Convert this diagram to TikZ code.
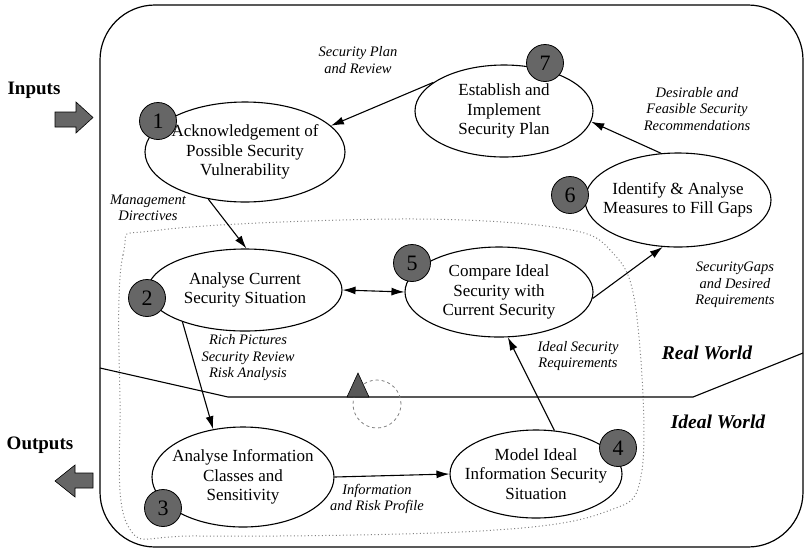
\documentclass[tikz,border=0pt]{standalone}
\usepackage{fontspec}
\setmainfont{Liberation Serif}
\usepackage{tikz}
\usetikzlibrary{arrows.meta,shapes.geometric}

\begin{document}
\begin{tikzpicture}[x=1pt,y=-1pt,>={Latex[length=13pt,width=8pt]},
  proc/.style={ellipse,draw,line width=1.1pt,fill=white,inner xsep=-30pt,inner ysep=-8pt,
    align=center,font=\fontsize{17}{19.5}\selectfont},
  badge/.style={circle,draw,line width=0.8pt,fill=black!60,minimum size=37pt,inner sep=0pt,
    font=\fontsize{22}{22}\selectfont},
  flow/.style={->,line width=1.1pt},
  note/.style={align=center,font=\itshape\fontsize{14.5}{16.5}\selectfont},
  world/.style={font=\bfseries\itshape\fontsize{19.5}{20}\selectfont},
  side/.style={font=\bfseries\fontsize{19}{20}\selectfont}]
  \useasboundingbox (0,0) rectangle (804,550);
  % frame and regions
  \draw[line width=1.2pt,rounded corners=55pt] (100,5) rectangle (803,547);
  \draw[gray,line width=1pt,dash pattern=on 1pt off 2.5pt] plot[smooth cycle,tension=0.6] coordinates
    {(120,400) (123,255) (160,230) (400,219) (560,228) (612,252) (636,310) (642,470)
     (605,512) (480,531) (200,536) (128,526)};
  \draw[line width=1.1pt] (100,368) -- (228,397) -- (693,397) -- (803,353);
  \draw[gray,line width=0.8pt,dashed] (377,404) circle (24pt);
  \draw[fill=black!65,line width=0.6pt] (347,397) -- (358,373) -- (369,397) -- cycle;
  % in / out
  \draw[fill=black!60,line width=0.6pt] (55,112) -- (76,112) -- (76,102) -- (93,117.5)
    -- (76,133) -- (76,127) -- (55,127) -- cycle;
  \draw[fill=black!60,line width=0.6pt] (93,473) -- (75,473) -- (75,465) -- (55,481)
    -- (75,497) -- (75,488) -- (93,488) -- cycle;
  \node[side] (inp) at (34,90) {Inputs};
  \node[side] (outp) at (40,445) {Outputs};
  % stages
  \node[proc,minimum width=200pt,minimum height=100pt] (ack) at (245,152) {Acknowledgement of\\Possible Security\\Vulnerability};
  \node[proc,minimum width=194pt,minimum height=82pt] (cur) at (245,290) {Analyse Current\\Security Situation};
  \node[proc,minimum width=182pt,minimum height=100pt] (cls) at (243,477) {Analyse Information\\Classes and\\Sensitivity};
  \node[proc,minimum width=172pt,minimum height=88pt] (mod) at (536,474) {Model Ideal\\Information Security\\Situation};
  \node[proc,minimum width=188pt,minimum height=90pt] (cmp) at (499,292) {Compare Ideal\\Security with\\Current Security};
  \node[proc,minimum width=186pt,minimum height=94pt] (gap) at (678,200) {Identify \& Analyse\\Measures to Fill Gaps};
  \node[proc,minimum width=178pt,minimum height=92pt] (plan) at (504,111) {Establish and\\Implement\\Security Plan};
  \foreach \b/\n/\x/\y in {b1/1/158/121,b2/2/147/298,b3/3/163/508,b4/4/618/448,
                           b5/5/412/263,b6/6/570/195,b7/7/545/63}{
    \node[badge] (\b) at (\x,\y) {\n};
  }
  % flows
  \draw[flow] (plan.158) -- (ack.17);
  \draw[flow] (gap.110) -- (plan.353);
  \draw[flow] (ack.232) -- (cur.88);
  \draw[<->,line width=1.1pt] (cur.east) -- (cmp.west);
  \draw[flow] (cur.207) -- (cls.122);
  \draw[flow] (cls.east) -- (mod.west);
  \draw[flow] (mod.67) -- (cmp.281);
  \draw[flow] (cmp.356) -- (gap.252);
  % labels
  \node[note] (spr) at (358,60) {Security Plan\\and Review};
  \node[note] (dfs) at (697,109) {Desirable and\\Feasible Security\\Recommendations};
  \node[note] (mgd) at (148,208) {Management\\Directives};
  \node[note] (rpr) at (248,358) {Rich Pictures\\Security Review\\Risk Analysis};
  \node[note] (irp) at (377,499) {Information\\and Risk Profile};
  \node[note] (isr) at (578,356) {Ideal Security\\Requirements};
  \node[note] (sgd) at (735,285) {SecurityGaps\\and Desired\\Requirements};
  \node[world] (rw) at (707,353) {Real World};
  \node[world] (iw) at (718,422) {Ideal World};
\end{tikzpicture}
\end{document}
